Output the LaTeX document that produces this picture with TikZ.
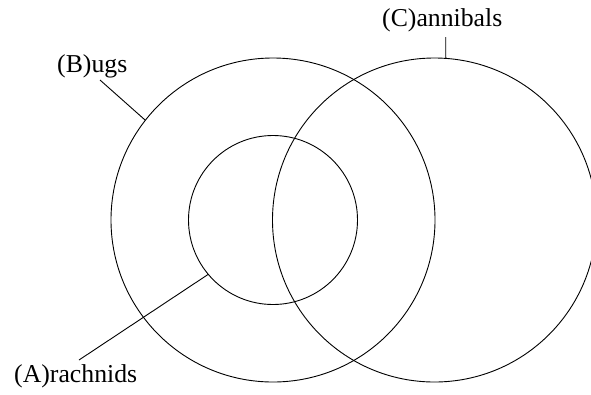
\documentclass[tikz,border=0pt]{standalone}
\usepackage{fontspec}
\setmainfont{Liberation Serif}
\begin{document}
\begin{tikzpicture}[x=1pt,y=-1pt,
  setcircle/.style={circle,draw,line width=0.9pt,inner sep=0pt,outer sep=0pt},
  lbl/.style={anchor=base west,inner sep=0pt,font=\fontsize{25.75}{30}\selectfont},
  leader/.style={line width=0.9pt}]
\useasboundingbox (0,0) rectangle (591,394);
\node[setcircle,minimum size=324pt] (B) at (273,220) {};
\node[setcircle,minimum size=169pt] (A) at (273,220) {};
\node[setcircle,minimum size=324pt] (C) at (434.5,220) {};
\node[lbl] (Bl) at (57,72) {(B)ugs};
\node[lbl] (Cl) at (382,26) {(C)annibals};
\node[lbl] (Al) at (14,382) {(A)rachnids};
\coordinate (Bend) at (100,80);
\coordinate (Cend) at (445.7,37);
\coordinate (Aend) at (79,360);
\draw[leader] (Bend) -- (B.142.8);
\draw[leader] (Cend) -- (C.86);
\draw[leader] (Aend) -- (A.220.2);
\end{tikzpicture}
\end{document}
